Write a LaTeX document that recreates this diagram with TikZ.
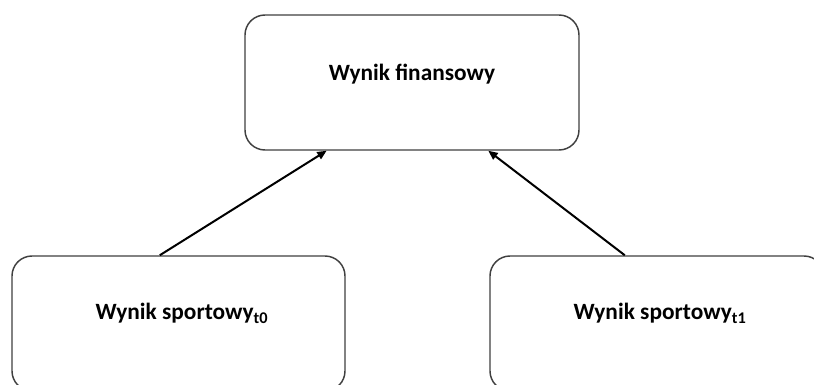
\documentclass[tikz,border=0pt]{standalone}
\usepackage{fontspec}
\setmainfont{Carlito}
\usetikzlibrary{calc,arrows.meta}
\begin{document}
\begin{tikzpicture}[x=0.75pt,y=-0.75pt,
  box/.style={draw=black!75,line width=1.1pt,rounded corners=15pt,fill=white,
    minimum width=334*0.75pt,minimum height=135*0.75pt,inner sep=0pt},
  txt/.style={font=\fontsize{17.5}{20}\selectfont\bfseries,inner sep=0pt},
  conn/.style={line width=1.5pt,-{Triangle[length=7pt,width=6pt]}}]
\clip (0,0) rectangle (814,385);
\fill[white] (0,0) rectangle (814,385);
\node[box,label={[txt,yshift=6.5pt]center:Wynik finansowy}] (top) at (412,82.5) {};
\node[box,minimum width=333*0.75pt,label={[txt,xshift=2.6pt,yshift=7.5pt]center:Wynik sportowy\textsubscript{t0}}] (b1) at (178.5,323.5) {};
\node[box,label={[txt,xshift=2.3pt,yshift=7.5pt]center:Wynik sportowy\textsubscript{t1}}] (b2) at (657,323.5) {};
\coordinate (s1) at ($(b1.north west)!0.444!(b1.north east)$);
\coordinate (e1) at ($(top.south west)!0.2455!(top.south east)$);
\coordinate (s2) at ($(b2.north west)!0.404!(b2.north east)$);
\coordinate (e2) at ($(top.south west)!0.7275!(top.south east)$);
\draw[conn] (s1) -- (e1);
\draw[conn] (s2) -- (e2);
\end{tikzpicture}
\end{document}
